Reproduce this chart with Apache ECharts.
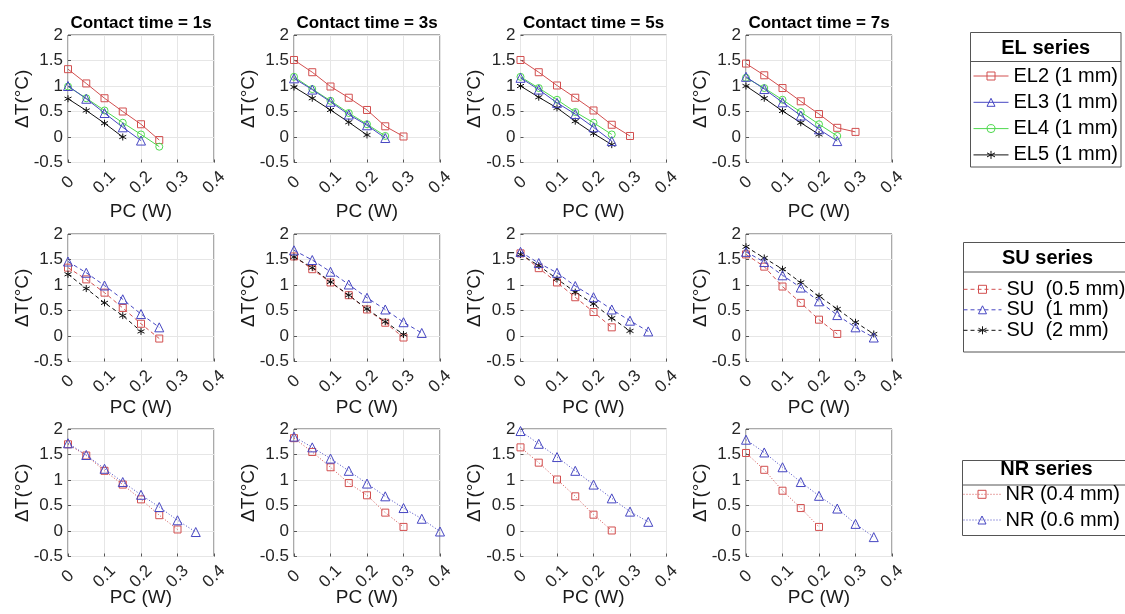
<!DOCTYPE html>
<html><head><meta charset="utf-8">
<script src="https://cdn.jsdelivr.net/npm/echarts@6/dist/echarts.min.js"></script>
<style>html,body{margin:0;padding:0;background:#fff}#c{width:1125px;height:614px}</style>
</head><body><div id="c"></div>
<script>
// ---------- data ----------
const pc = [0, 0.05, 0.1, 0.15, 0.2, 0.25, 0.3, 0.35, 0.4];
const contactTimes = ['1s', '3s', '5s', '7s'];
const xTicks = [0, 0.1, 0.2, 0.3, 0.4];
const yTicks = [-0.5, 0, 0.5, 1, 1.5, 2];

// one inner array per contact time (1s, 3s, 5s, 7s), values at pc[0], pc[1], ...
const EL2 = [
  [1.33, 1.05, 0.76, 0.50, 0.25, -0.06],
  [1.51, 1.27, 0.99, 0.77, 0.53, 0.21, 0.01],
  [1.51, 1.27, 1.01, 0.77, 0.52, 0.24, 0.02],
  [1.44, 1.21, 0.96, 0.70, 0.45, 0.18, 0.10]
];
const EL3 = [
  [1.00, 0.75, 0.47, 0.19, -0.07],
  [1.15, 0.93, 0.69, 0.44, 0.23, -0.02],
  [1.16, 0.93, 0.67, 0.45, 0.19, -0.08],
  [1.18, 0.94, 0.68, 0.42, 0.15, -0.08]
];
const EL4 = [
  [0.99, 0.76, 0.52, 0.28, 0.05, -0.19],
  [1.18, 0.94, 0.71, 0.47, 0.25, 0.02],
  [1.18, 0.96, 0.73, 0.49, 0.28, 0.05],
  [1.16, 0.96, 0.73, 0.49, 0.25, 0.02]
];
const EL5 = [
  [0.75, 0.52, 0.27, 0.00],
  [0.98, 0.76, 0.53, 0.29, 0.04],
  [1.00, 0.78, 0.57, 0.31, 0.07, -0.15],
  [1.00, 0.76, 0.51, 0.28, 0.05]
];
const SU05 = [
  [1.34, 1.11, 0.85, 0.55, 0.24, -0.05],
  [1.56, 1.31, 1.05, 0.80, 0.52, 0.26, -0.03],
  [1.62, 1.33, 1.05, 0.76, 0.47, 0.17],
  [1.60, 1.36, 0.97, 0.65, 0.32, 0.04]
];
const SU1 = [
  [1.46, 1.24, 0.99, 0.72, 0.43, 0.17],
  [1.68, 1.49, 1.26, 1.01, 0.75, 0.52, 0.27, 0.06],
  [1.65, 1.43, 1.24, 0.98, 0.76, 0.52, 0.30, 0.09],
  [1.65, 1.45, 1.19, 0.95, 0.68, 0.41, 0.17, -0.03]
];
const SU2 = [
  [1.21, 0.93, 0.65, 0.40, 0.09],
  [1.55, 1.34, 1.06, 0.80, 0.53, 0.28, 0.03],
  [1.60, 1.38, 1.12, 0.86, 0.63, 0.35, 0.10],
  [1.75, 1.53, 1.31, 1.05, 0.78, 0.53, 0.27, 0.04]
];
const NR04 = [
  [1.70, 1.48, 1.18, 0.91, 0.62, 0.31, 0.03],
  [1.82, 1.55, 1.25, 0.94, 0.70, 0.36, 0.08],
  [1.64, 1.34, 1.01, 0.68, 0.32, 0.01],
  [1.53, 1.20, 0.79, 0.45, 0.08]
];
const NR06 = [
  [1.72, 1.49, 1.22, 0.96, 0.71, 0.47, 0.21, -0.02],
  [1.85, 1.64, 1.42, 1.18, 0.93, 0.68, 0.45, 0.24, -0.01],
  [1.96, 1.71, 1.45, 1.18, 0.91, 0.64, 0.38, 0.18],
  [1.79, 1.54, 1.25, 0.96, 0.69, 0.44, 0.14, -0.12]
];

// ---------- styling / layout ----------
const FONT = 'Liberation Sans, Arial, sans-serif';
const RED = '#d24f4f', BLUE = '#4646c2', GREEN = '#4fd94f', BLACK = '#111111';
const STAR = 'path://M5 0 L5 10 M0.67 2.5 L9.33 7.5 M0.67 7.5 L9.33 2.5';
const colLeft = [68, 294, 520.5, 746];
const rowTop = [35, 234, 429];
const rowNameGap = [40, 37, 32];
const PW = 146, PH = 127.5;

const groups = [
  [ // EL row
    {name: 'EL2 (1 mm)', d: EL2, c: RED, s: 'rect', z: 7, t: 'solid'},
    {name: 'EL3 (1 mm)', d: EL3, c: BLUE, s: 'triangle', z: 9, t: 'solid'},
    {name: 'EL4 (1 mm)', d: EL4, c: GREEN, s: 'circle', z: 8, t: 'solid'},
    {name: 'EL5 (1 mm)', d: EL5, c: BLACK, s: STAR, z: 7, t: 'solid'}
  ],
  [ // SU row
    {name: 'SU  (0.5 mm)', d: SU05, c: RED, s: 'rect', z: 7, t: [4, 3]},
    {name: 'SU  (1 mm)', d: SU1, c: BLUE, s: 'triangle', z: 9, t: [4, 3]},
    {name: 'SU  (2 mm)', d: SU2, c: BLACK, s: STAR, z: 7, t: [4, 3]}
  ],
  [ // NR row
    {name: 'NR (0.4 mm)', d: NR04, c: RED, s: 'rect', z: 7, t: [1, 2]},
    {name: 'NR (0.6 mm)', d: NR06, c: BLUE, s: 'triangle', z: 9, t: [1, 2]}
  ]
];

const grid = [], xAxis = [], yAxis = [], series = [];
for (let r = 0; r < 3; r++) {
  for (let c = 0; c < 4; c++) {
    const gi = grid.length;
    grid.push({left: colLeft[c], top: rowTop[r], width: PW, height: PH,
      show: true, borderColor: '#555', borderWidth: 1, backgroundColor: '#fff',
      containLabel: false, outerBoundsMode: 'none'});
    xAxis.push({type: 'value', gridIndex: gi, min: xTicks[0], max: xTicks[xTicks.length - 1], interval: 0.1,
      name: 'PC (W)', nameLocation: 'middle', nameGap: rowNameGap[r], nameMoveOverlap: false,
      nameTextStyle: {fontSize: 19, color: '#1a1a1a', fontFamily: FONT},
      axisLine: {show: false, onZero: false},
      axisTick: {show: true, inside: true, length: 3, lineStyle: {color: '#555'}},
      splitLine: {show: true, lineStyle: {color: '#e6e6e6', width: 1}},
      axisLabel: {rotate: 45, align: 'center', verticalAlign: 'middle', margin: 20,
        fontSize: 17, color: '#262626', fontFamily: FONT, showMinLabel: true, showMaxLabel: true}
    });
    yAxis.push({type: 'value', gridIndex: gi, min: yTicks[0], max: yTicks[yTicks.length - 1], interval: 0.5,
      name: 'ΔT(°C)', nameLocation: 'middle', nameGap: 36, nameMoveOverlap: false,
      nameTextStyle: {fontSize: 19, color: '#1a1a1a', fontFamily: FONT},
      axisLine: {show: false, onZero: false},
      axisTick: {show: true, inside: true, length: 3, lineStyle: {color: '#555'}},
      splitLine: {show: true, lineStyle: {color: '#e6e6e6', width: 1}},
      axisLabel: {margin: 5, fontSize: 17, color: '#262626', fontFamily: FONT, showMinLabel: true, showMaxLabel: true}
    });
    groups[r].forEach(g => {
      const isStar = g.s === STAR;
      series.push({
        type: 'line', name: g.name, xAxisIndex: gi, yAxisIndex: gi,
        data: g.d[c].map((v, i) => [pc[i], v]),
        symbol: g.s, symbolSize: isStar ? 7 : (g.s === 'triangle' ? 9 : 7),
        showAllSymbol: true, z: g.z,
        lineStyle: {color: g.c, width: 1, type: g.t},
        itemStyle: {color: 'transparent', borderColor: g.c, borderWidth: 1},
        emphasis: {disabled: true}, silent: true, animation: false
      });
    });
  }
}

const title = contactTimes.map((t, i) => ({
  text: 'Contact time = ' + t, left: colLeft[i] + PW / 2, top: 15, textAlign: 'center', padding: 0,
  textStyle: {fontSize: 17, fontWeight: 'bold', color: '#000', fontFamily: FONT}
}));

function legendOf(r, left, top, itemWidth, gap) {
  return {
    orient: 'vertical', left: left, top: top, padding: 0, itemWidth: itemWidth, itemHeight: 10, itemGap: gap,
    selectedMode: false, z: 10,
    textStyle: {fontSize: 20, lineHeight: 20, color: '#000', fontFamily: FONT},
    data: groups[r].map(g => ({
      name: g.name,
      itemStyle: {color: 'transparent', borderColor: g.c, borderWidth: 1},
      lineStyle: {color: g.c, width: 1, type: g.t}
    }))
  };
}
const legend = [
  legendOf(0, 973, 66, 35, 6.3),
  legendOf(1, 963, 279.3, 38, 0.5),
  legendOf(2, 963, 484.3, 37, 5.7)
];

function legendBox(x, y, w, h, sepY, ttl, ttlY) {
  return [
    {type: 'rect', shape: {x: x, y: y, width: w, height: h}, style: {fill: '#fff', stroke: '#555', lineWidth: 1}, z: 1},
    {type: 'line', shape: {x1: x, y1: sepY, x2: x + w, y2: sepY}, style: {stroke: '#555', lineWidth: 1}, z: 2},
    {type: 'text', x: x + w / 2, y: ttlY, style: {text: ttl, fill: '#000', font: 'bold 20px ' + FONT, align: 'center', verticalAlign: 'middle'}, z: 2}
  ];
}
const graphic = [].concat(
  legendBox(970.5, 32.5, 150.5, 134.5, 61.5, 'EL series', 48.5),
  legendBox(963.5, 242.5, 168, 109.5, 272, 'SU series', 258),
  legendBox(962.5, 460.5, 168, 75, 485, 'NR series', 469.5)
);

const chart = echarts.init(document.getElementById('c'), null, {renderer: 'canvas'});
chart.setOption({
  animation: false, backgroundColor: '#fff',
  title: title, grid: grid, xAxis: xAxis, yAxis: yAxis, series: series, legend: legend, graphic: graphic
});
</script></body></html>
